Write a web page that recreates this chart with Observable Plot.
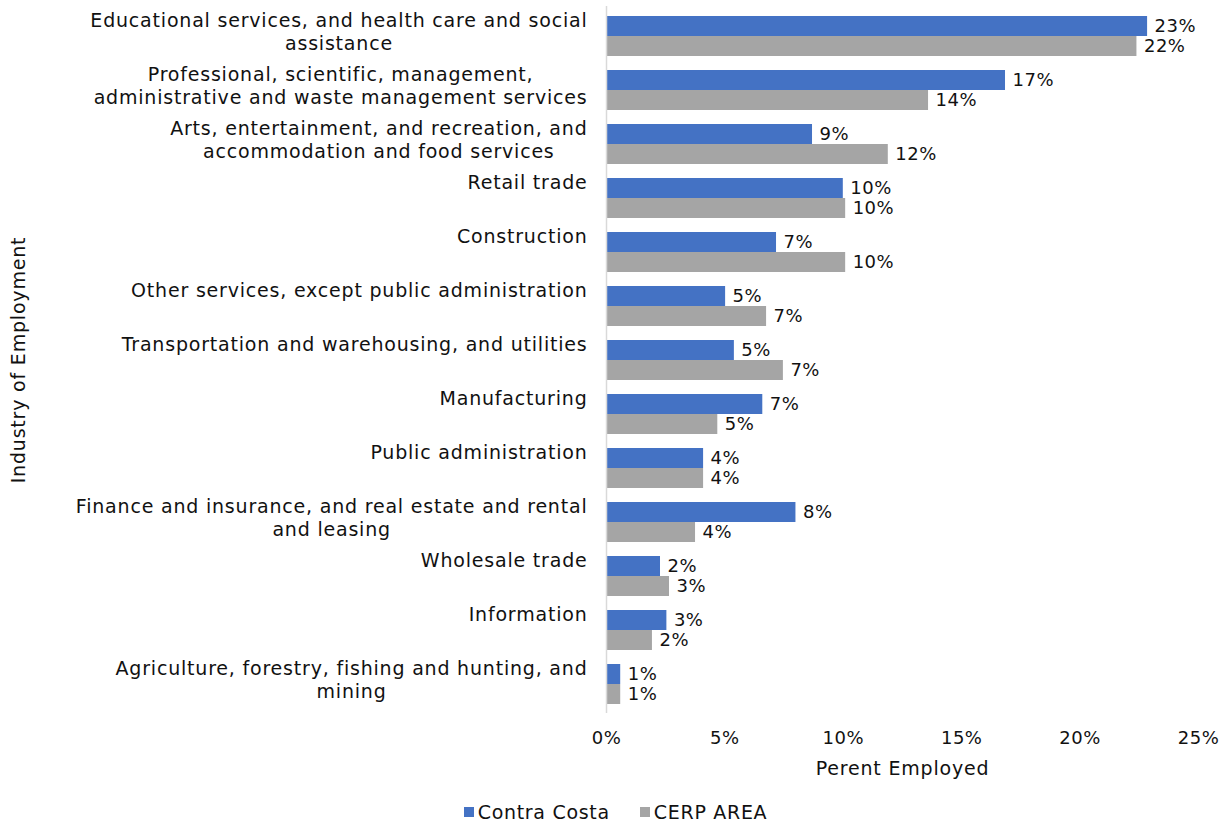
<!DOCTYPE html>
<html><head><meta charset="utf-8">
<script src="https://cdn.jsdelivr.net/npm/d3@7"></script>
<script src="https://cdn.jsdelivr.net/npm/@observablehq/plot@0.6"></script>
<style>
body{margin:0;background:#fff;font-family:"DejaVu Sans",sans-serif;}
#chart svg{display:block;}
#chart svg text{letter-spacing:0.5px;}
#chart svg g.catlab text, #chart svg g.title text{letter-spacing:0.8px;}
#legend{height:34px;display:flex;justify-content:center;align-items:center;gap:30px;font-size:19px;letter-spacing:0.7px;color:#111;padding-left:0px;}
#legend span.item{display:flex;align-items:center;}
#legend span.sw{display:inline-block;width:10px;height:10px;margin-right:4px;}
</style></head><body><div id="chart"></div><div id="legend"></div>
<script>
const categories = [
  "Educational services, and health care and social\nassistance",
  "Professional, scientific, management,\nadministrative and waste management services",
  "Arts, entertainment, and recreation, and\naccommodation and food services",
  "Retail trade",
  "Construction",
  "Other services, except public administration",
  "Transportation and warehousing, and utilities",
  "Manufacturing",
  "Public administration",
  "Finance and insurance, and real estate and rental\nand leasing",
  "Wholesale trade",
  "Information",
  "Agriculture, forestry, fishing and hunting, and\nmining"
];
const seriesNames = ["Contra Costa", "CERP AREA"];
const contraCosta = [22.85, 16.85, 8.7, 10.0, 7.18, 5.03, 5.4, 6.6, 4.1, 8.0, 2.28, 2.55, 0.6];
const cerpArea    = [22.4, 13.6, 11.9, 10.1, 10.1, 6.76, 7.47, 4.7, 4.1, 3.76, 2.66, 1.94, 0.6];
const xTicks = [0, 5, 10, 15, 20, 25];
const colors = ["#4472C4", "#A5A5A5"];

const rows = categories.flatMap((c, i) => [
  {category: c, series: seriesNames[0], value: contraCosta[i]},
  {category: c, series: seriesNames[1], value: cerpArea[i]}
]);
const rowsA = rows.filter(d => d.series === seriesNames[0]);
const rowsB = rows.filter(d => d.series === seriesNames[1]);
const fmt = v => Math.round(v) + "%";
const FONT = "DejaVu Sans";
const INK = "#111";

const chart = Plot.plot({
  width: 1231,
  height: 795,
  marginLeft: 606,
  marginRight: 33,
  marginTop: 6,
  marginBottom: 82,
  style: {fontFamily: FONT, color: INK, background: "#fff"},
  x: {domain: [0, 25], ticks: xTicks, tickFormat: d => d + "%", label: null},
  y: {domain: categories, paddingInner: 0.265, paddingOuter: 0.1325, axis: null},
  marks: [
    Plot.axisX({ticks: xTicks, tickFormat: d => d + "%", tickSize: 0, tickPadding: 18, fontSize: 18, label: null}),
    Plot.barX(rowsA, {x: "value", y: "category", fill: colors[0], insetBottom: 20}),
    Plot.barX(rowsB, {x: "value", y: "category", fill: colors[1], insetTop: 20}),
    Plot.ruleX([0], {stroke: "#d9d9d9", strokeWidth: 1.5}),
    Plot.text(rowsA, {x: "value", y: "category", text: d => fmt(d.value), dx: 7, dy: -10, textAnchor: "start", fontSize: 18, fill: INK}),
    Plot.text(rowsB, {x: "value", y: "category", text: d => fmt(d.value), dx: 7, dy: 10, textAnchor: "start", fontSize: 18, fill: INK}),
    Plot.text(categories, {y: d => d, text: d => d, frameAnchor: "left", dx: -19, dy: -26, textAnchor: "end", lineAnchor: "top", lineHeight: 1.22, fontSize: 19, fill: INK, className: "catlab"}),
    Plot.text(["Perent Employed"], {frameAnchor: "bottom", dy: 55, lineAnchor: "middle", fontSize: 19, fill: INK, className: "title"}),
    Plot.text(["Industry of Employment"], {frameAnchor: "left", dx: -588, rotate: -90, textAnchor: "middle", fontSize: 19, fill: INK, className: "title"})
  ]
});
document.getElementById("chart").appendChild(chart);

// center multi-line category labels (Excel-style centered wrap)
chart.querySelectorAll("g.catlab text").forEach(t => {
  const spans = Array.from(t.querySelectorAll("tspan"));
  if (spans.length < 2) return;
  const w = spans.map(s => s.getComputedTextLength());
  const W = Math.max(...w);
  spans.forEach((s, i) => s.setAttribute("x", -(W - w[i]) / 2));
});

const legend = document.getElementById("legend");
seriesNames.forEach((n, i) => {
  const item = document.createElement("span");
  item.className = "item";
  const sw = document.createElement("span");
  sw.className = "sw";
  sw.style.background = colors[i];
  item.appendChild(sw);
  item.appendChild(document.createTextNode(n));
  legend.appendChild(item);
});
</script>
</body></html>
